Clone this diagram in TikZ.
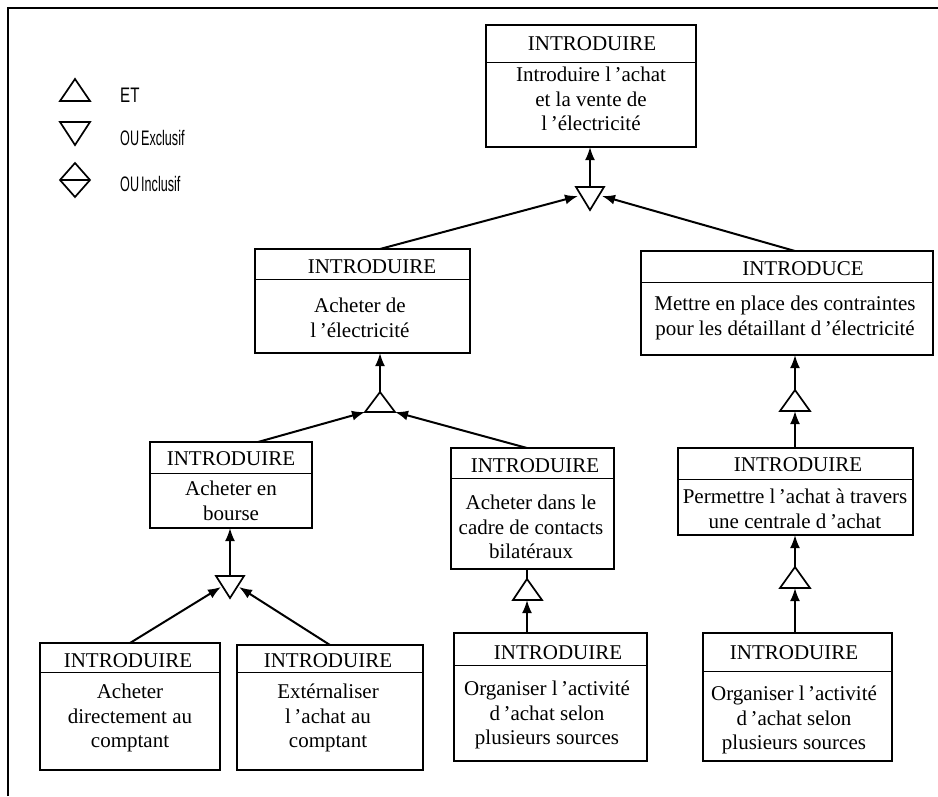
\documentclass[tikz,border=0pt]{standalone}
\usepackage{fontspec}
\setmainfont{Liberation Serif}
\newfontfamily\legfont{Liberation Sans}
\usetikzlibrary{arrows.meta}
\tikzset{
  box/.style={draw, line width=2.4pt, inner sep=0pt, outer sep=0pt},
  div/.style={line width=1pt},
  ttl/.style={inner sep=0pt, font=\fontsize{21}{24}\selectfont},
  txt/.style={inner sep=0pt, align=center, font=\fontsize{21}{24.5}\selectfont},
  arr/.style={line width=2pt, -{Latex[length=13pt,width=10pt]}},
  plain/.style={line width=2pt},
  gate/.style={line width=1.7pt, line join=miter},
  leg/.style={anchor=west, inner sep=0pt, font=\legfont\fontsize{21}{22}\selectfont},
}
\newcommand\mybox[6]{%
  \node[box, minimum width={#4-#2}, minimum height={#5-#3}] (#1) at ({(#2+#4)/2},{(#3+#5)/2}) {};
  \draw[div] (#2,#6) -- (#4,#6);}
\begin{document}
\begin{tikzpicture}[x=1pt,y=-1pt]
\useasboundingbox (0,0) rectangle (938,796);
% frame
\draw[line width=1.3pt] (8,796) -- (8,8) -- (938,8);

% legend
\draw[gate] (60,101) -- (90,101) -- (75,79) -- cycle;
\draw[gate] (60,122) -- (90,122) -- (75,145) -- cycle;
\draw[gate] (75,163) -- (90,180) -- (75,197) -- (60,180) -- cycle (60,180) -- (90,180);
\node[leg] (l1) at (120,95) {\scalebox{0.72}[1]{ET}};
\node[leg] (l2) at (120,138) {\scalebox{0.6}[1]{OU\,Exclusif}};
\node[leg] (l3) at (120,184) {\scalebox{0.6}[1]{OU\,Inclusif}};

% boxes
\mybox{b0}{486}{25}{696}{147}{62}
\node[ttl] (b0t) at (592,44) {INTRODUIRE};
\node[txt] (b0b) at (591,99) {Introduire l\,'achat\\et la vente de\\l\,'électricité};

\mybox{b1}{255}{249}{470}{353}{279}
\node[ttl] (b1t) at (372,267) {INTRODUIRE};
\node[txt] (b1b) at (360,318) {Acheter de\\l\,'électricité};

\mybox{b2}{641}{251}{933}{355}{282}
\node[ttl] (b2t) at (803,269) {INTRODUCE};
\node[txt] (b2b) at (785,318) {Mettre en place des contraintes\\pour les détaillant d\,'électricité};

\mybox{b3}{150}{442}{312}{528}{473}
\node[ttl] (b3t) at (231,459) {INTRODUIRE};
\node[txt] (b3b) at (231,501) {Acheter en\\bourse};

\mybox{b4}{451}{448}{614}{569}{478}
\node[ttl] (b4t) at (535,466) {INTRODUIRE};
\node[txt] (b4b) at (531,527) {Acheter dans le\\cadre de contacts\\bilatéraux};

\mybox{b5}{678}{448}{913}{535}{479}
\node[ttl] (b5t) at (798,465) {INTRODUIRE};
\node[txt] (b5b) at (795,509) {Permettre l\,'achat à travers\\une centrale d\,'achat};

\mybox{b6}{40}{643}{220}{770}{672}
\node[ttl] (b6t) at (128,661) {INTRODUIRE};
\node[txt] (b6b) at (130,718) {Acheter\\directement au\\comptant};

\mybox{b7}{237}{645}{423}{770}{672}
\node[ttl] (b7t) at (328,661) {INTRODUIRE};
\node[txt] (b7b) at (328,718) {Extérnaliser\\l\,'achat au\\comptant};

\mybox{b8}{454}{633}{647}{761}{665}
\node[ttl] (b8t) at (558,653) {INTRODUIRE};
\node[txt] (b8b) at (547,715) {Organiser l\,'activité\\d\,'achat selon\\plusieurs sources};

\mybox{b9}{703}{633}{892}{761}{671}
\node[ttl] (b9t) at (794,653) {INTRODUIRE};
\node[txt] (b9b) at (794,720) {Organiser l\,'activité\\d\,'achat selon\\plusieurs sources};

% gates
% G1 down triangle (top)
\coordinate (g1l) at (576,187); \coordinate (g1r) at (604,187); \coordinate (g1a) at (590,210);
\coordinate (g1t) at (590,187);
\coordinate (g1in1) at (578,196); \coordinate (g1in2) at (602,196);
\draw[gate] (g1l) -- (g1r) -- (g1a) -- cycle;
% G2 up triangle under b1
\coordinate (g2a) at (380,392); \coordinate (g2l) at (365,412); \coordinate (g2r) at (395,412);
\draw[gate] (g2l) -- (g2r) -- (g2a) -- cycle;
% G3 up triangle under b2
\coordinate (g3a) at (795,390); \coordinate (g3l) at (780,411); \coordinate (g3r) at (810,411);
\coordinate (g3b) at (795,411);
\draw[gate] (g3l) -- (g3r) -- (g3a) -- cycle;
% G4 up triangle under b5
\coordinate (g4a) at (795,567); \coordinate (g4l) at (780,588); \coordinate (g4r) at (810,588);
\coordinate (g4b) at (795,588);
\draw[gate] (g4l) -- (g4r) -- (g4a) -- cycle;
% G5 up triangle under b4
\coordinate (g5a) at (527,579); \coordinate (g5l) at (513,600); \coordinate (g5r) at (542,600);
\coordinate (g5b) at (527,600);
\draw[gate] (g5l) -- (g5r) -- (g5a) -- cycle;
% G6 down triangle under b3
\coordinate (g6l) at (216,576); \coordinate (g6r) at (244,576); \coordinate (g6a) at (230,598);
\coordinate (g6t) at (230,576);
\coordinate (g6in1) at (221,587); \coordinate (g6in2) at (239,587);
\draw[gate] (g6l) -- (g6r) -- (g6a) -- cycle;

% connectors
\draw[arr] (g1t) -- (g1t |- b0.south);
\draw[arr] (380,249) -- (g1in1);
\draw[arr] (795,251) -- (g1in2);

\draw[arr] (g2a) -- (g2a |- b1.south);
\draw[arr] (258,442) -- (g2l);
\draw[arr] (527,448) -- (g2r);

\draw[arr] (g3a) -- (g3a |- b2.south);
\draw[arr] (g3b |- b5.north) -- (g3b);

\draw[arr] (g4a) -- (g4a |- b5.south);
\draw[arr] (g4b |- b9.north) -- (g4b);

\draw[plain] (g5a |- b4.south) -- (g5a);
\draw[arr] (g5b |- b8.north) -- (g5b);

\draw[arr] (g6t) -- (g6t |- b3.south);
\draw[arr] (130,643) -- (g6in1);
\draw[arr] (330,645) -- (g6in2);
\end{tikzpicture}
\end{document}
